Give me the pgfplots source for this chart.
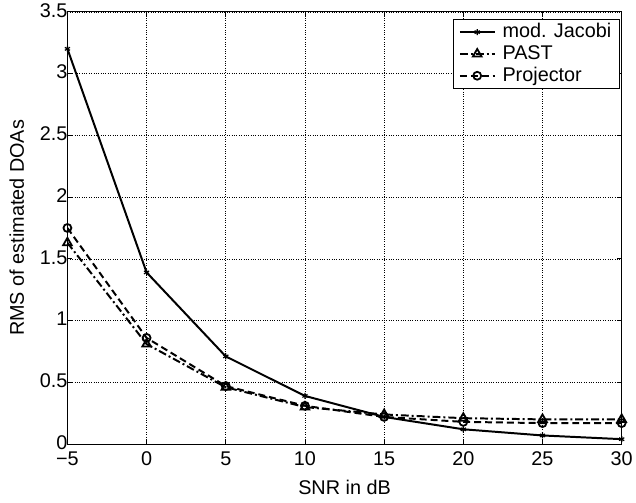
\documentclass[border=0pt]{standalone}
\usepackage{pgfplots}
\pgfplotsset{compat=1.18}
\usepackage{fontspec}
\setmainfont{Liberation Sans}
\begin{document}
\begin{tikzpicture}
\begin{axis}[
  name=a,
  scale only axis,
  width=559pt, height=436pt,
  xmin=-5, xmax=30, ymin=0, ymax=3.5,
  xtick={-5,0,...,30},
  xticklabels={−5,0,5,10,15,20,25,30},
  ytick={0,0.5,...,3.5},
  yticklabel style={/pgf/number format/fixed, xshift=3.5pt, yshift=1.5pt},
  xticklabel style={yshift=-4.5pt},
  /pgf/number format/assume math mode=true,
  tick align=inside,
  tick pos=both,
  major tick length=5pt,
  grid=major,
  grid style={black, dotted, line width=0.6pt},
  axis line style={line width=1.2pt},
  tick style={line width=0.8pt, black},
  tick label style={font=\fontsize{20}{24}\selectfont},
  label style={font=\fontsize{20}{24}\selectfont},
  xlabel={SNR in dB},
  ylabel={RMS of estimated DOAs},
  xlabel style={at={(axis description cs:0.5,0)}, anchor=base, yshift=-51pt},
  ylabel style={at={(axis description cs:0,0.5)}, anchor=base, yshift=44pt},
  legend style={at={(rel axis cs:1,1)}, anchor=north east, xshift=-2pt, yshift=-7pt,
     font=\fontsize{20}{24}\selectfont, draw=black, line width=1pt,
     inner xsep=5pt, inner ysep=2pt, row sep=0pt, column sep=4pt,
     nodes={inner xsep=3pt, inner ysep=1.5pt, text height=15pt, text depth=4pt},
     legend cell align=left},
  legend image code/.code={\draw[#1] (0pt,0pt) -- (35pt,0pt) plot coordinates {(17.5pt,0pt)};},
  legend image post style={line width=2pt},
  every axis plot/.append style={line width=2pt, black},
]
\addplot[mark=asterisk, mark size=3pt, mark options={solid, line width=1.2pt}] coordinates {
(-5,3.20) (0,1.39) (5,0.71) (10,0.39) (15,0.22) (20,0.12) (25,0.07) (30,0.04)};
\addlegendentry{mod. Jacobi}
\addplot[dash pattern=on 8pt off 3pt on 2pt off 3pt, mark=triangle, mark size=5pt, mark options={solid, line width=1.8pt}] coordinates {
(-5,1.63) (0,0.81) (5,0.46) (10,0.30) (15,0.24) (20,0.21) (25,0.20) (30,0.20)};
\addlegendentry{PAST}
\addplot[dash pattern=on 7pt off 4pt, mark=o, mark size=4pt, mark options={solid, line width=1.8pt}] coordinates {
(-5,1.75) (0,0.86) (5,0.47) (10,0.31) (15,0.22) (20,0.18) (25,0.17) (30,0.17)};
\addlegendentry{Projector}
\end{axis}
\path (a.south west) ++(-68pt,-59pt) rectangle ++(636pt,503pt);
\end{tikzpicture}
\end{document}
